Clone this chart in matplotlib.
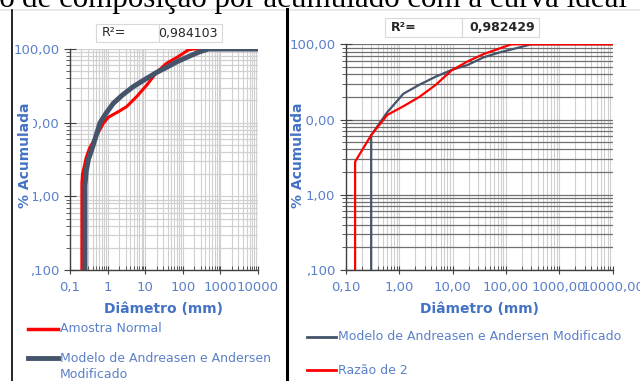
import numpy as np
import matplotlib as mpl
mpl.use('agg')
import matplotlib.pyplot as plt
from matplotlib.ticker import LogLocator, FixedLocator, NullFormatter

# valores (diametro em mm, % acumulada)
amostra_d = [0.207, 0.207, 0.215, 0.25, 0.267, 0.33, 0.46, 0.62, 0.77, 1.04, 1.45,
             1.93, 3.2, 5.9, 11, 20, 37, 76, 140, 190, 10000]
amostra_p = [0.1, 1.5, 2.0, 2.8, 3.3, 4.5, 6.1, 8.0, 9.8, 11.8, 13.0,
             14.1, 16.5, 22.5, 32.4, 48, 64, 79, 97, 100, 100]
modelo1_d = [0.25, 0.25, 0.27, 0.31, 0.38, 0.5, 0.63, 0.9, 1.42, 2.5, 4.8,
             10, 20, 40, 69, 150, 286, 480, 10000]
modelo1_p = [0.1, 1.4, 2.2, 3.2, 4.3, 6.8, 10, 13.3, 18.3, 23.8, 30.8,
             38.8, 48, 57.5, 67, 80, 92, 100, 100]

modelo2_d = [0.3, 0.3, 0.6, 1.2, 2.4, 4.8, 9.6, 19, 38, 76, 150, 300, 10000]
modelo2_p = [0.1, 6.2, 12.5, 22, 29, 37, 45.5, 53, 67, 78, 88, 100, 100]
razao_d = [0.15, 0.15, 0.3, 0.6, 1.2, 2.4, 4.8, 9.6, 19, 38, 76, 126, 10000]
razao_p = [0.1, 2.75, 6.2, 11.5, 15, 20, 28.7, 45, 59, 74, 88, 100, 100]

r2_esq = "0,984103"
r2_dir = "0,982429"
yticks = [0.1, 1, 10, 100]
ylabels = [",100", "1,00", "10,00", "100,00"]
xticks = [0.1, 1, 10, 100, 1000, 10000]
xlabels_esq = ["0,1", "1", "10", "100", "1000", "10000"]
xlabels_dir = ["0,10", "1,00", "10,00", "100,00", "1000,00", "10000,00"]

RED = "#FF0000"
GRAY = "#44546A"
BLUE = "#4472C4"
TICKBLUE = "#5B80C8"
W, H = 640, 381


def px_axes(fig, x0, y0, x1, y1):
    return fig.add_axes([x0 / W, 1 - y1 / H, (x1 - x0) / W, (y1 - y0) / H])


def style_axes(ax, xlabels, hcolor, vcolor):
    ax.set_xscale("log")
    ax.set_yscale("log")
    ax.set_xlim(0.1, 10000)
    ax.set_ylim(0.1, 100)
    ax.xaxis.set_major_locator(FixedLocator(xticks))
    ax.xaxis.set_minor_locator(LogLocator(base=10, subs=np.arange(2, 10), numticks=20))
    ax.yaxis.set_major_locator(FixedLocator(yticks))
    ax.yaxis.set_minor_locator(LogLocator(base=10, subs=np.arange(2, 10), numticks=20))
    ax.xaxis.set_minor_formatter(NullFormatter())
    ax.yaxis.set_minor_formatter(NullFormatter())
    ax.set_xticklabels(xlabels)
    ax.set_yticklabels(ylabels)
    ax.tick_params(axis="both", which="both", labelcolor=TICKBLUE, labelsize=9.5, color="#404040")
    ax.tick_params(axis="x", which="major", direction="inout", length=6, pad=5)
    ax.tick_params(axis="x", which="minor", direction="in", length=3)
    ax.tick_params(axis="y", which="major", direction="inout", length=8)
    ax.tick_params(axis="y", which="minor", direction="out", length=3)
    ax.grid(True, which="both", axis="x", color=vcolor, lw=0.8)
    ax.grid(True, which="both", axis="y", color=hcolor, lw=0.9)
    ax.set_axisbelow(True)
    for s in ["top", "right"]:
        ax.spines[s].set_visible(False)
    for s in ["left", "bottom"]:
        ax.spines[s].set_color("#404040")
        ax.spines[s].set_linewidth(1.0)


fig = plt.figure(figsize=(6.4, 3.81), dpi=100)

# texto do documento cortado no topo
frase_ini = "ção "
frase = "de composição por acumulado com a curva ideal"
fig.text(22 / W, 1 - 6.5 / H, frase, family="Liberation Serif", fontsize=22.3,
         ha="left", va="baseline", color="black")
fig.text(22 / W, 1 - 6.5 / H, frase_ini, family="Liberation Serif", fontsize=22.3,
         ha="right", va="baseline", color="black")
fig.add_artist(plt.Line2D([0, 1], [1 - 9.5 / H, 1 - 9.5 / H], color="#E6E6E6", lw=1.2))
fig.add_artist(plt.Line2D([12 / W, 12 / W], [0, 1 - 10 / H], color="black", lw=1.2))
fig.add_artist(plt.Line2D([287 / W, 287 / W], [0, 1 - 9 / H], color="black", lw=2.2))

# grafico da esquerda
ax1 = px_axes(fig, 70, 49, 258, 270)
style_axes(ax1, xlabels_esq, "#D0D0D0", "#D0D0D0")
ax1.plot(amostra_d, amostra_p, color=RED, lw=2.2, solid_capstyle="butt")
ax1.plot(modelo1_d, modelo1_p, color=GRAY, lw=3.6, solid_capstyle="butt")
ax1.set_xlabel("Diâmetro (mm)", color=BLUE, fontweight="bold", fontsize=10, labelpad=6)

# grafico da direita
ax2 = px_axes(fig, 345.7, 44.3, 612.7, 270)
style_axes(ax2, xlabels_dir, "#707070", "#D0D0D0")
ax2.plot(modelo2_d, modelo2_p, color=GRAY, lw=1.6)
ax2.plot(razao_d, razao_p, color=RED, lw=1.6)
ax2.set_xlabel("Diâmetro (mm)", color=BLUE, fontweight="bold", fontsize=10, labelpad=6)

# rotulos do eixo y (sobrepostos aos numeros, como no original)
for xp in (25, 298):
    fig.text(xp / W, 1 - 155 / H, "% Acumulada", rotation=90, color=BLUE,
             fontweight="bold", fontsize=10, ha="center", va="center",
             bbox=dict(facecolor="white", edgecolor="none", pad=0.5))

# caixas de R²
def r2_box(x0, xm, x1, y0, y1, valor, peso):
    for a, b in ((x0, xm), (xm, x1)):
        fig.add_artist(plt.Rectangle((a / W, 1 - y1 / H), (b - a) / W, (y1 - y0) / H,
                                     facecolor="white", edgecolor="#D9D9D9", lw=0.8))
    ym = 1 - (y0 + y1) / 2 / H
    fig.text((x0 + 6) / W, ym, "R²=", fontsize=9, ha="left", va="center",
             color="#262626", fontweight=peso)
    fig.text((x1 - 4) / W, ym, valor, fontsize=9, ha="right", va="center",
             color="#262626", fontweight=peso)


r2_box(96, 159, 222, 24, 42, r2_esq, "normal")
r2_box(385, 462, 539, 18, 37, r2_dir, "bold")

# legendas
def leg(x0, x1, y, cor, lw, texto):
    fig.add_artist(plt.Line2D([x0 / W, x1 / W], [1 - y / H, 1 - y / H], color=cor, lw=lw))
    fig.text((x1 + 2) / W, 1 - y / H, texto, color=TICKBLUE, fontsize=9,
             ha="left", va="center", linespacing=1.0)


leg(28, 58, 329, RED, 2.5, "Amostra Normal")
leg(28, 58, 358, GRAY, 3.5, "Modelo de Andreasen e Andersen")
fig.text(60 / W, 1 - 374 / H, "Modificado", color=TICKBLUE, fontsize=9, ha="left", va="center")
leg(307, 336, 337, GRAY, 2.0, "Modelo de Andreasen e Andersen Modificado")
leg(307, 336, 370, RED, 2.0, "Razão de 2")

fig.savefig("out.png", dpi=100)
